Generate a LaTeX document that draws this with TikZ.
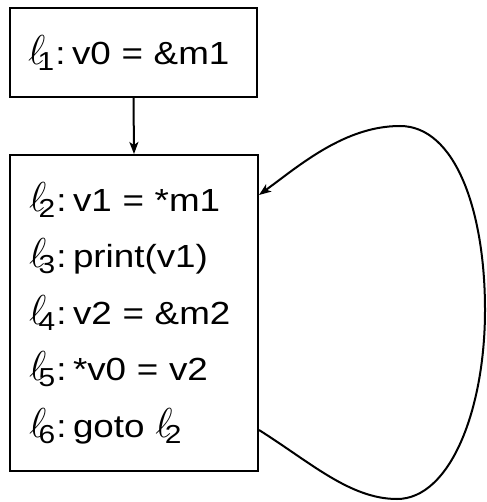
\documentclass[tikz,border=0pt]{standalone}
\usepackage{fontspec}
\setmainfont[FakeStretch=1.15]{Liberation Sans}
\usetikzlibrary{arrows.meta}
\newcommand{\lref}[1]{\mbox{\Huge\scalebox{1.68}{$\ell$}}\kern-7.5pt\raisebox{-6pt}{\fontsize{26}{26}\selectfont #1}}
\newcommand{\lbl}[1]{\lref{#1}\kern1pt:\hspace{6.5pt}}
\tikzset{
  blk/.style={draw, line width=2pt, font=\fontsize{32}{56.5}\selectfont, align=left, inner ysep=0pt},
  edge/.style={line width=2pt, -{Stealth[length=12pt,width=9pt,inset=3pt]}}
}
\begin{document}
\begin{tikzpicture}[x=1pt,y=-1pt]
\useasboundingbox (0,0) rectangle (486,502);
\node[blk, text width=211pt, inner xsep=18pt, minimum height=89pt] (b1) at (133.5,52.5) {\lbl{1}v0 = \&m1};
\node[blk, text width=210pt, inner xsep=19pt, minimum height=316pt] (b2) at (134,313)
  {\lbl{2}v1 = *m1\\ \lbl{3}print(v1)\\ \lbl{4}v2 = \&m2\\ \lbl{5}*v0 = v2\\ \lbl{6}goto \lref{2}};
\draw[edge] (b1.south) -- (b2.north);
\coordinate (s) at ([yshift=-117pt]b2.east);
\coordinate (e) at ([yshift=118pt]b2.east);
\draw[edge] (s) .. controls (310,462) and (350,499) .. (397,499)
  .. controls (450,499) and (485,410) .. (485,310)
  .. controls (485,210) and (455,126) .. (400,126)
  .. controls (345,126) and (300,165) .. (e);
\end{tikzpicture}
\end{document}
